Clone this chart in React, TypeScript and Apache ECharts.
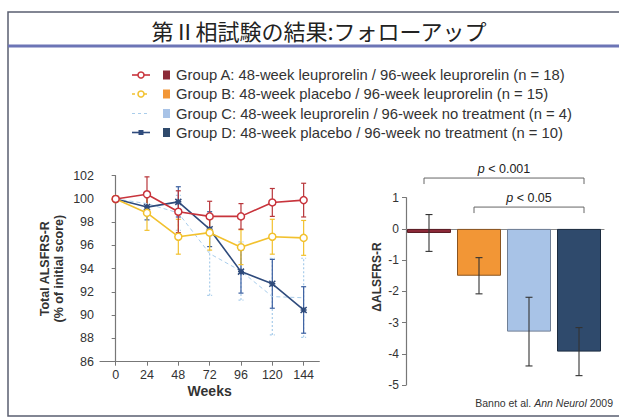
import React, { useEffect, useRef } from "react";
import * as echarts from "echarts";

// Follow-up: total ALSFRS-R (% of initial score) by week
const weeks = [0, 24, 48, 72, 96, 120, 144];
const weekTicks = [0, 24, 48, 72, 96, 120, 144];

const groupA = [100, 100.4, 98.9, 98.5, 98.5, 99.7, 99.9];
const groupAErr = [0, 1.5, 1.8, 1.3, 1.1, 1.2, 1.45];
const groupB = [100, 98.8, 96.75, 97.1, 95.85, 96.75, 96.65];
const groupBErr = [0, 1.5, 1.5, 1.5, 1.5, 1.5, 1.5];
const groupC = [100, 99.6, 98.8, 95.3, 93.8, 91.6, 91.5];
const groupCErr = [0, 1.0, 1.5, 3.6, 2.5, 3.3, 3.4];
const groupD = [100, 99.3, 99.75, 97.4, 93.75, 92.7, 90.45];
const groupDErr = [0, 1.1, 1.3, 1.5, 1.85, 2.1, 2.0];

// Change in ALSFRS-R per group
const barGroups = ["A", "B", "C", "D"];
const barValues = [-0.13, -1.5, -3.29, -3.93];
const barErrors = [0.59, 0.58, 1.1, 0.77];

// Significance brackets: [from group, to group, level, label]
const brackets: [number, number, number, string][] = [
  [0, 3, 1.63, "p < 0.001"],
  [1, 3, 0.7, "p < 0.05"],
];

const legendLabels = [
  "Group A: 48-week leuprorelin / 96-week leuprorelin (n = 18)",
  "Group B: 48-week placebo / 96-week leuprorelin (n = 15)",
  "Group C: 48-week leuprorelin / 96-week no treatment (n = 4)",
  "Group D: 48-week placebo / 96-week no treatment (n = 10)",
];

const lineColors = ["#c8343c", "#f2c12e", "#a9cdeb", "#2f4b7c"];
const barColors = ["#8c2a38", "#f29636", "#a8c3e7", "#2f4a6c"];
const barBorders = ["#5a1a22", "#8a5420", "#6f7f96", "#1c2c40"];

const FONT = "'Liberation Sans', Arial, sans-serif";
const X_MARK = "path://M0,0L10,10M10,0L0,10M5,0L5,10M0,5L10,5";

function lineErrorBars(values: number[], errs: number[], color: string, dashed: boolean) {
  return {
    type: "custom",
    xAxisIndex: 0,
    yAxisIndex: 0,
    z: 2,
    silent: true,
    data: weeks
      .map((w, i) => [w, values[i] - errs[i], values[i] + errs[i]])
      .filter((_, i) => errs[i] > 0),
    renderItem: (_params: any, api: any) => {
      const x = api.value(0);
      const lo = api.coord([x, api.value(1)]);
      const hi = api.coord([x, api.value(2)]);
      const hw = 2.5;
      const style = { stroke: color, lineWidth: 1.2, lineDash: dashed ? [2, 2] : null };
      return {
        type: "group",
        children: [
          { type: "line", shape: { x1: lo[0], y1: lo[1], x2: hi[0], y2: hi[1] }, style },
          { type: "line", shape: { x1: lo[0] - hw, y1: lo[1], x2: lo[0] + hw, y2: lo[1] }, style },
          { type: "line", shape: { x1: hi[0] - hw, y1: hi[1], x2: hi[0] + hw, y2: hi[1] }, style },
        ],
      };
    },
  };
}

function lineSeries(
  name: string,
  values: number[],
  color: string,
  symbol: string,
  dashed: boolean,
  z: number
) {
  const open = symbol === "circle";
  return {
    type: "line",
    name,
    xAxisIndex: 0,
    yAxisIndex: 0,
    z,
    data: weeks.map((w, i) => [w, values[i]]),
    symbol,
    symbolSize: open ? 7 : symbol === "none" ? 0 : 6,
    showSymbol: symbol !== "none",
    lineStyle: { color, width: dashed ? 1 : 1.6, type: dashed ? [4, 3] : "solid" },
    itemStyle: {
      color: open ? "#ffffff" : color,
      borderColor: color,
      borderWidth: 1.5,
    },
  };
}

function legendGraphics() {
  const rows = [75, 94, 113.5, 132.5];
  const out: any[] = [];
  rows.forEach((y, i) => {
    const c = lineColors[i];
    out.push({
      type: "line",
      shape: { x1: 132, y1: y, x2: 150, y2: y },
      style: { stroke: c, lineWidth: i === 2 ? 1 : 1.6, lineDash: i === 1 || i === 2 ? [3, 3] : null },
    });
    if (i < 2) {
      out.push({
        type: "circle",
        shape: { cx: 141, cy: y, r: 3 },
        style: { fill: "#fff", stroke: c, lineWidth: 1.5 },
      });
    } else if (i === 3) {
      out.push({
        type: "rect",
        shape: { x: 138.5, y: y - 2.5, width: 5, height: 5 },
        style: { fill: c },
      });
    }
    out.push({
      type: "rect",
      shape: { x: 163, y: y - 4.5, width: 7, height: 9 },
      style: { fill: barColors[i] },
    });
    out.push({
      type: "text",
      x: 176,
      y,
      style: {
        text: legendLabels[i],
        fill: "#333",
        font: `14.8px ${FONT}`,
        verticalAlign: "middle",
      },
    });
  });
  return out;
}

export default function App() {
  const ref = useRef<HTMLDivElement>(null);

  useEffect(() => {
    if (!ref.current) return;
    const chart = echarts.init(ref.current, undefined, { renderer: "svg" });

    const option: any = {
      animation: false,
      backgroundColor: "#ffffff",
      textStyle: { fontFamily: FONT },
      grid: [
        { left: 100, top: 175.7, width: 219.3, height: 186 },
        { left: 404, top: 197.7, width: 200, height: 187.3 },
      ],
      xAxis: [
        {
          type: "value",
          gridIndex: 0,
          min: -12,
          max: 156,
          splitLine: { show: false },
          axisLine: { lineStyle: { color: "#777", width: 1.2 } },
          axisTick: { customValues: weekTicks, length: 4, lineStyle: { color: "#777" } },
          axisLabel: { customValues: weekTicks, color: "#333", fontSize: 12.5, margin: 7, fontFamily: FONT },
          name: "Weeks",
          nameLocation: "middle",
          nameGap: 22,
          nameTextStyle: { fontWeight: "bold", fontSize: 14, color: "#333", fontFamily: FONT },
        },
        {
          type: "category",
          gridIndex: 1,
          data: barGroups,
          axisLine: { onZero: true, lineStyle: { color: "#888", width: 1.2 } },
          axisTick: { show: false },
          axisLabel: { show: false },
        },
      ],
      yAxis: [
        {
          type: "value",
          gridIndex: 0,
          min: 86,
          max: 102,
          interval: 2,
          splitLine: { show: false },
          axisLine: { show: true, lineStyle: { color: "#777", width: 1.2 } },
          axisTick: { show: true, length: 4, lineStyle: { color: "#777" } },
          axisLabel: { color: "#333", fontSize: 12.5, margin: 6, fontFamily: FONT },
        },
        {
          type: "value",
          gridIndex: 1,
          min: -5,
          max: 1,
          interval: 1,
          offset: -2,
          splitLine: { show: false },
          axisLine: { show: true, lineStyle: { color: "#777", width: 1.2 } },
          axisTick: { show: true, length: 4, lineStyle: { color: "#777" } },
          axisLabel: { color: "#333", fontSize: 12, margin: 7, fontFamily: FONT },
        },
      ],
      series: [
        lineErrorBars(groupC, groupCErr, lineColors[2], true),
        lineErrorBars(groupD, groupDErr, "#3b5fa0", false),
        lineErrorBars(groupB, groupBErr, lineColors[1], false),
        lineErrorBars(groupA, groupAErr, "#b8353a", false),
        lineSeries("Group C", groupC, lineColors[2], "none", true, 3),
        lineSeries("Group D", groupD, lineColors[3], X_MARK, false, 4),
        lineSeries("Group B", groupB, lineColors[1], "circle", false, 5),
        lineSeries("Group A", groupA, lineColors[0], "circle", false, 6),
        {
          type: "bar",
          xAxisIndex: 1,
          yAxisIndex: 1,
          barWidth: 44,
          data: barValues.map((v, i) => ({
            value: v,
            itemStyle: { color: barColors[i], borderColor: barBorders[i], borderWidth: 1 },
          })),
        },
        {
          type: "custom",
          xAxisIndex: 1,
          yAxisIndex: 1,
          z: 3,
          silent: true,
          data: barValues.map((v, i) => [i, v - barErrors[i], v + barErrors[i]]),
          renderItem: (_params: any, api: any) => {
            const x = api.value(0);
            const lo = api.coord([x, api.value(1)]);
            const hi = api.coord([x, api.value(2)]);
            const hw = 3.5;
            const style = { stroke: "#333", lineWidth: 1.1 };
            return {
              type: "group",
              children: [
                { type: "line", shape: { x1: lo[0], y1: lo[1], x2: hi[0], y2: hi[1] }, style },
                { type: "line", shape: { x1: lo[0] - hw, y1: lo[1], x2: lo[0] + hw, y2: lo[1] }, style },
                { type: "line", shape: { x1: hi[0] - hw, y1: hi[1], x2: hi[0] + hw, y2: hi[1] }, style },
              ],
            };
          },
        },
        {
          type: "custom",
          xAxisIndex: 1,
          yAxisIndex: 1,
          z: 3,
          silent: true,
          clip: false,
          data: brackets.map((b) => [b[0], b[1], b[2]]),
          renderItem: (params: any, api: any) => {
            const b = brackets[params.dataIndex];
            const l = api.coord([api.value(0), api.value(2)]);
            const r = api.coord([api.value(1), api.value(2)]);
            const left = l[0] - 5;
            const right = r[0] + 5;
            const y = l[1];
            const drop = 6;
            const style = { stroke: "#666", lineWidth: 1, fill: null };
            return {
              type: "group",
              children: [
                {
                  type: "polyline",
                  shape: {
                    points: [
                      [left, y + drop],
                      [left, y],
                      [right, y],
                      [right, y + drop],
                    ],
                  },
                  style,
                },
                {
                  type: "text",
                  x: (left + right) / 2,
                  y: y - 3,
                  style: {
                    text: "{i|p}" + b[3].slice(1),
                    fill: "#222",
                    font: `12.5px ${FONT}`,
                    align: "center",
                    verticalAlign: "bottom",
                    rich: { i: { fontStyle: "italic", fontSize: 12.5, fontFamily: FONT, fill: "#222" } },
                  },
                },
              ],
            };
          },
        },
      ],
      graphic: [
        {
          type: "rect",
          shape: { x: 8, y: 12, width: 640, height: 404 },
          style: { fill: null, stroke: "#5a5f70", lineWidth: 1.5 },
          z: 10,
        },
        {
          type: "line",
          shape: { x1: 8, y1: 46, x2: 625, y2: 46 },
          style: { stroke: "#6c75b6", lineWidth: 3 },
          z: 10,
        },
        {
          type: "text",
          x: 319,
          y: 30,
          style: {
            text: "第Ⅱ相試験の結果:フォローアップ",
            fill: "#222",
            font: "22px 'Noto Sans CJK JP', sans-serif",
            align: "center",
            verticalAlign: "middle",
          },
        },
        ...legendGraphics(),
        {
          type: "text",
          x: 52,
          y: 268.7,
          rotation: Math.PI / 2,
          style: {
            text: "Total ALSFRS-R\n(% of initial score)",
            fill: "#333",
            font: `bold 12.5px ${FONT}`,
            align: "center",
            verticalAlign: "middle",
            lineHeight: 13.5,
          },
        },
        {
          type: "text",
          x: 377,
          y: 277,
          rotation: Math.PI / 2,
          style: {
            text: "ΔALSFRS-R",
            fill: "#333",
            font: `bold 12px ${FONT}`,
            align: "center",
            verticalAlign: "middle",
          },
        },
        {
          type: "text",
          x: 613,
          y: 403,
          style: {
            text: "Banno et al. {i|Ann Neurol} 2009",
            fill: "#333",
            font: `10.5px ${FONT}`,
            align: "right",
            verticalAlign: "middle",
            rich: { i: { fontStyle: "italic", fontSize: 10.5, fontFamily: FONT, fill: "#333" } },
          },
        },
      ],
    };

    chart.setOption(option);
    return () => chart.dispose();
  }, []);

  return (
    <div
      ref={ref}
      style={{ position: "fixed", left: 0, top: 0, width: 619, height: 418 }}
    />
  );
}
